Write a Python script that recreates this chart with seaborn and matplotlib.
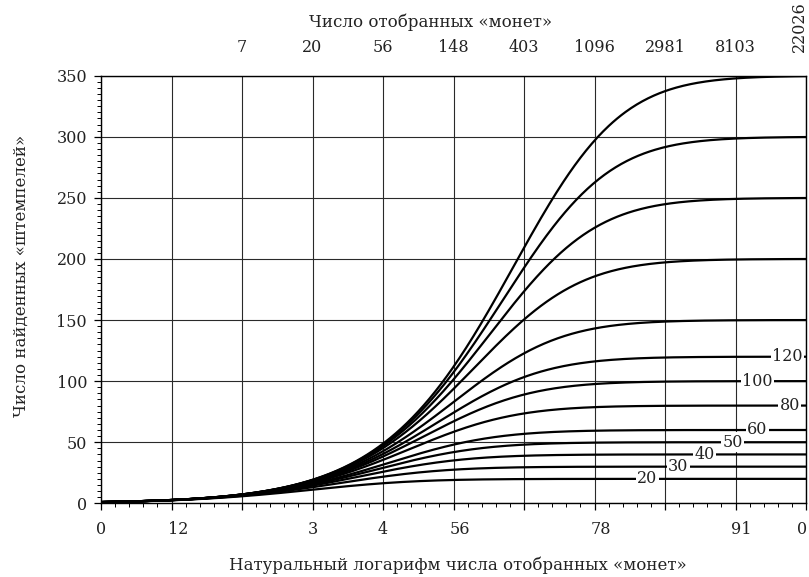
import numpy as np
import pandas as pd
import matplotlib
matplotlib.use("Agg")
import matplotlib.pyplot as plt
import matplotlib.transforms as mtransforms
from matplotlib.ticker import MultipleLocator
import seaborn as sns

# Number of distinct dies in each hypothetical issue (one curve per value)
die_counts = [20, 30, 40, 50, 60, 80, 100, 120, 150, 200, 250, 300, 350]

# Curves that carry an inline label, and where along ln(n) the label sits
labeled_counts = [20, 30, 40, 50, 60, 80, 100, 120]
label_log_n = [7.75, 8.19, 8.56, 8.96, 9.31, 9.77, 9.31, 9.74]

# Bottom axis: natural log of the number of coins sampled
bottom_tick_pos = [0, 1, 2, 3, 4, 5, 6, 7, 8, 9, 10]
bottom_tick_labels = ["0", "12", "", "3", "4", "56", "", "78", "", "91", "0"]

# Top axis: the corresponding number of coins
top_tick_pos = [2, 3, 4, 5, 6, 7, 8, 9, 10]
top_tick_labels = ["7", "20", "56", "148", "403", "1096", "2981", "8103", "22026"]

# Die output varies from die to die (gamma-distributed, shape 2);
# expected number of distinct dies seen after n = e^x coins
shape = 2.0
log_n = np.linspace(0, 10, 501)
frames = []
for d in die_counts:
    n = np.exp(log_n)
    found = d * (1.0 - (1.0 + n / (shape * d)) ** (-shape))
    frames.append(pd.DataFrame({"log_n": log_n, "dies": found, "D": d}))
df = pd.concat(frames, ignore_index=True)

sns.set_style("ticks")
plt.rcParams["font.family"] = ["DejaVu Serif"]
plt.rcParams["axes.edgecolor"] = "black"
plt.rcParams["axes.linewidth"] = 1.0

W, H = 809, 577
fig = plt.figure(figsize=(W / 100, H / 100), dpi=100)
ax = fig.add_axes([101 / W, 1 - 503.3 / H, 705 / W, (503.3 - 75.7) / H])

sns.lineplot(data=df, x="log_n", y="dies", hue="D",
             palette={d: "black" for d in die_counts},
             legend=False, linewidth=1.6, ax=ax, zorder=3)

ax.set_xlim(0, 10)
ax.set_ylim(0, 350)
ax.set_xlabel("")
ax.set_ylabel("")

ax.xaxis.set_minor_locator(MultipleLocator(0.2))
ax.yaxis.set_major_locator(MultipleLocator(50))
ax.yaxis.set_minor_locator(MultipleLocator(5))
ax.grid(True, which="major", color="#2a2a2a", linewidth=0.8, zorder=1)
ax.set_axisbelow(True)

tick_fs = 11.5
ax.tick_params(axis="both", which="major", direction="out", length=5,
               width=0.9, color="black", labelsize=tick_fs, labelcolor="#222222")
ax.tick_params(axis="both", which="minor", direction="out", length=3,
               width=0.7, color="black")
ax.tick_params(axis="x", which="major", pad=8)
ax.tick_params(axis="y", which="major", pad=5)

ax.set_xticks(bottom_tick_pos)
ax.set_xticklabels(bottom_tick_labels)
shift_left = mtransforms.ScaledTranslation(-4 / 100, 0, fig.dpi_scale_trans)
for lab in ax.get_xticklabels():
    if len(lab.get_text()) == 2:
        lab.set_horizontalalignment("left")
        lab.set_transform(lab.get_transform() + shift_left)
last = ax.get_xticklabels()[-1]
last.set_horizontalalignment("right")
last.set_transform(last.get_transform()
                   + mtransforms.ScaledTranslation(1 / 100, 0, fig.dpi_scale_trans))

for sp in ax.spines.values():
    sp.set_visible(True)
    sp.set_color("black")
    sp.set_linewidth(1.0)

# Inline labels on the smaller-issue curves
for d, x in zip(labeled_counts, label_log_n):
    ax.text(x, d, str(d), ha="center", va="center", fontsize=tick_fs,
            color="#222222", zorder=5,
            bbox=dict(facecolor="white", edgecolor="none", pad=1.0))

# Secondary axis showing the number of coins
top = ax.secondary_xaxis("top")
top.set_xticks(top_tick_pos)
top.set_xticklabels(top_tick_labels)
top.tick_params(length=0, pad=14, labelsize=tick_fs, labelcolor="#222222")
top.spines["top"].set_visible(False)
rot = top.get_xticklabels()[-1]
rot.set_rotation(90)
rot.set_transform(rot.get_transform()
                  + mtransforms.ScaledTranslation(-7 / 100, 4 / 100, fig.dpi_scale_trans))

label_fs = 12
fig.text(431 / W, 1 - 22 / H, "Число отобранных «монет»", ha="center",
         va="center", fontsize=label_fs, color="#222222")
fig.text(458 / W, 1 - 565 / H, "Натуральный логарифм числа отобранных «монет»",
         ha="center", va="center", fontsize=label_fs, color="#222222")
fig.text(21 / W, 1 - 276 / H, "Число найденных «штемпелей»", ha="center",
         va="center", rotation=90, fontsize=label_fs, color="#222222")

fig.savefig("out.png", dpi=100)
